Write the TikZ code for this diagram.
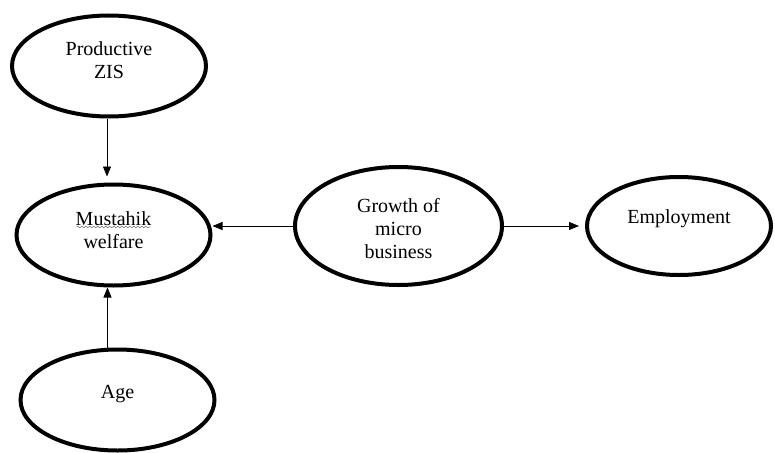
\documentclass[tikz,border=0pt]{standalone}
\usepackage{fontspec}
\setmainfont{Liberation Serif}
\usetikzlibrary{shapes.geometric, arrows.meta, decorations.pathmorphing, calc}
\tikzset{>={Triangle[length=10pt,width=8pt]}}
\tikzset{oval/.style={ellipse, draw, line width=4pt, minimum width=194pt, minimum height=101pt, inner sep=0pt},
    txt/.style={align=center, inner sep=0pt, font=\fontsize{20}{23}\selectfont}}

\begin{document}
\begin{tikzpicture}[x=1pt, y=-1pt, line width=0.8pt]
    \useasboundingbox (0,0) rectangle (775,452);
    \node[oval, label={[txt, yshift=6pt]center:Productive\\ZIS}] (zis) at (109,66) {};
    \node[oval, label={[txt, yshift=5pt]center:Mustahik\\welfare}] (mw) at (113.5,235) {};
    \node[oval, label={[txt, yshift=6pt]center:Age}] (age) at (117.5,400) {};
    \node[oval, minimum width=207pt, minimum height=118pt,
        label={[txt, yshift=-3pt]center:Growth of\\micro\\business}] (gmb) at (398.5,226) {};
    \node[oval, minimum width=184pt, minimum height=98pt,
        label={[txt, yshift=7pt]center:Employment}] (emp) at (679,226) {};
    \draw[->, shorten >=6pt] ([xshift=-2pt]zis.south) -- ([xshift=-2pt]zis.south |- mw.north);
    \draw[->] ([xshift=-10pt]age.north) -- ([xshift=-10pt]age.north |- mw.south);
    \draw[->] (gmb.west) -- (gmb.west -| mw.east);
    \draw[->, shorten >=6pt] (gmb.east) -- (emp.west);
    % spell-check mark
    \draw[gray, line width=0.6pt, decorate, decoration={snake, amplitude=0.8pt, segment length=4pt}]
        ($(mw.center)+(-37,-8)$) -- ($(mw.center)+(37,-8)$);
\end{tikzpicture}
\end{document}
